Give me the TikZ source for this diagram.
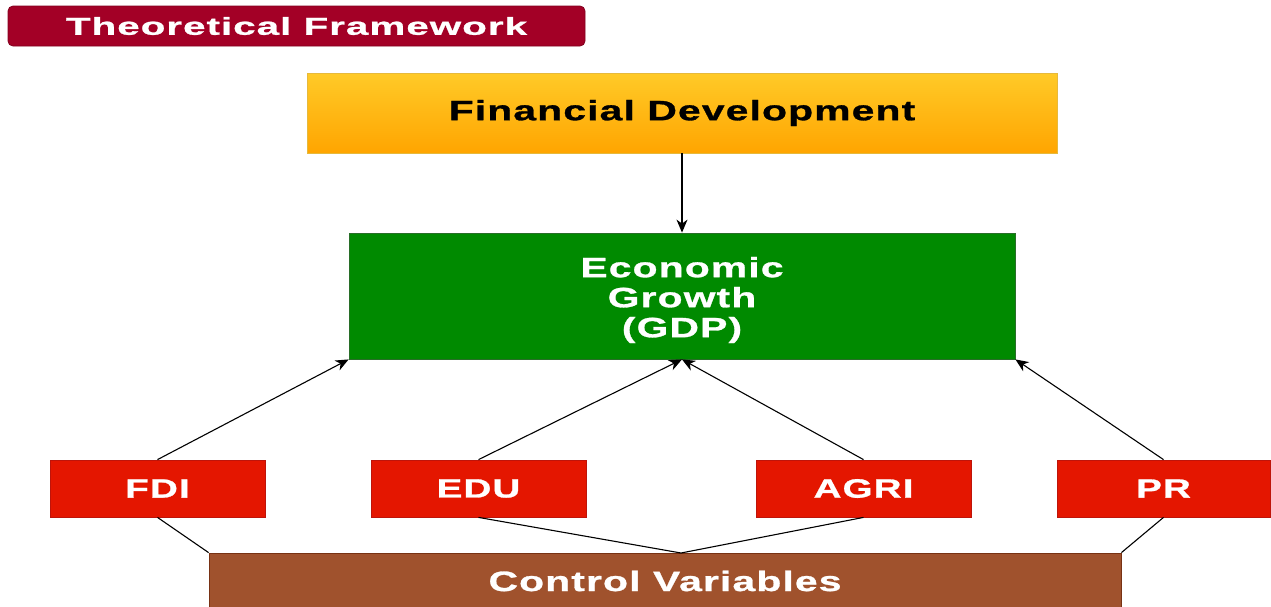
\documentclass[tikz,border=0pt]{standalone}
\usepackage{fontspec}
\setmainfont{Liberation Sans}
\newfontfamily\wf[FakeStretch=1.46,LetterSpace=4,FakeBold=1]{Liberation Sans Bold}
\newfontfamily\tf[FakeStretch=1.65,LetterSpace=4,FakeBold=1]{Liberation Sans Bold}
\usetikzlibrary{arrows.meta}
\definecolor{titlered}{RGB}{163,0,38}
\definecolor{fdtop}{RGB}{255,202,40}
\definecolor{fdbot}{RGB}{255,165,0}
\definecolor{fdborder}{RGB}{230,185,60}
\definecolor{egreen}{RGB}{0,138,0}
\definecolor{egborder}{RGB}{40,110,40}
\definecolor{boxred}{RGB}{228,22,0}
\definecolor{redborder}{RGB}{190,20,10}
\definecolor{cvbrown}{RGB}{160,82,45}
\definecolor{cvborder}{RGB}{120,50,20}
\begin{document}
\begin{tikzpicture}[x=1pt,y=-1pt,
  basebox/.style={rectangle, inner sep=0pt, line width=0.8pt,
    font=\wf\fontsize{28}{30}\selectfont, align=center},
  titlebox/.style={basebox, fill=titlered, draw=titlered!80!black, rounded corners=5pt,
    text=white, font=\tf\fontsize{24.5}{26}\selectfont},
  fdbox/.style={basebox, top color=fdtop, bottom color=fdbot, draw=fdborder, text=black},
  egbox/.style={basebox, fill=egreen, draw=egborder},
  egtext/.style={inner sep=0pt, align=center, text=white, font=\wf\fontsize{28}{30}\selectfont},
  varbox/.style={basebox, fill=boxred, draw=redborder, text=white,
    minimum width=215pt, minimum height=57pt, font=\wf\fontsize{26.5}{28}\selectfont},
  cvbox/.style={basebox, fill=cvbrown, draw=cvborder, text=white},
  conn/.style={-{Stealth[length=13pt,width=11pt,inset=4pt]}, line width=1.1pt},
  link/.style={line width=1.1pt}]
\useasboundingbox (0,0) rectangle (1271,606);

\node[titlebox, minimum width=577pt, minimum height=40pt] (title) at (296.5,26) {Theoretical Framework};
\node[fdbox, minimum width=750pt, minimum height=80pt] (fd) at (682,113) {Financial Development};
\node[egbox, minimum width=666pt, minimum height=126pt] (eg) at (682,296) {};
\node[egtext] (egt) at (682,300) {Economic\\Growth\\(GDP)};
\node[varbox] (fdi) at (157.5,488.5) {FDI};
\node[varbox] (edu) at (478.5,488.5) {EDU};
\node[varbox] (agri) at (863.5,488.5) {AGRI};
\node[varbox, minimum width=213pt] (pr) at (1163.5,488.5) {PR};
\node[cvbox, minimum width=912pt, minimum height=56pt] (cv) at (665,581) {Control Variables};

\coordinate (cvmid) at (681,553);

\draw[conn] (fd.south) -- (eg.north);
\draw[conn] (fdi.north) -- (eg.south west);
\draw[conn] (edu.north) -- (eg.south);
\draw[conn] (agri.north) -- (eg.south);
\draw[conn] (pr.north) -- (eg.south east);

\draw[link] (cv.north west) -- (fdi.south);
\draw[link] (cvmid) -- (edu.south);
\draw[link] (cvmid) -- (agri.south);
\draw[link] (cv.north east) -- (pr.south);
\end{tikzpicture}
\end{document}
